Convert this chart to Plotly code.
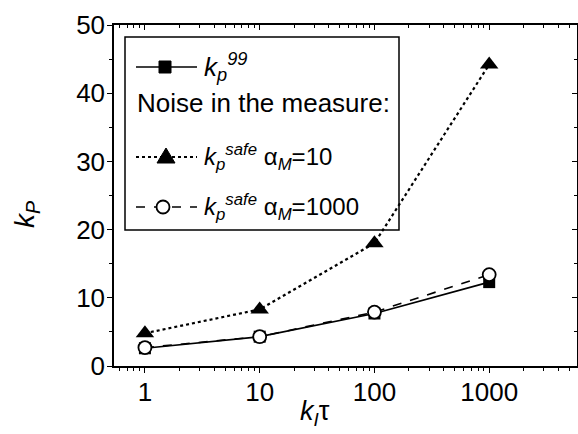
import plotly.graph_objects as go
import math

# ---- data ----
ki_tau = [1, 10, 100, 1000]
kp99 = [2.6, 4.3, 7.7, 12.3]
kp_safe_a10 = [4.8, 8.3, 18.0, 44.2]
kp_safe_a1000 = [2.7, 4.3, 7.9, 13.4]
x_ticks = [1, 10, 100, 1000]
x_ticktext = ["1", "10", "100", "1000"]
y_ticks = [0, 10, 20, 30, 40, 50]

W, H = 578, 434
L, R, T, B = 114, 1, 25, 68
PW, PH = W - L - R, H - T - B
FONT = "Liberation Sans, Arial, sans-serif"

def px(X):
    return (X - L) / PW

def py(Y):
    return (H - B - Y) / PH

fig = go.Figure()
fig.add_trace(go.Scatter(x=ki_tau, y=kp99, mode="lines+markers",
                         line=dict(color="black", width=1.7),
                         marker=dict(symbol="square", size=12, color="black"),
                         showlegend=False))
fig.add_trace(go.Scatter(x=ki_tau, y=kp_safe_a10, mode="lines+markers",
                         line=dict(color="black", width=2.2, dash="dot"),
                         marker=dict(symbol="triangle-up", size=16, color="black"),
                         showlegend=False))
fig.add_trace(go.Scatter(x=ki_tau, y=kp_safe_a1000, mode="lines+markers",
                         line=dict(color="black", width=1.6, dash="dash"),
                         marker=dict(symbol="circle", size=13, color="white",
                                     line=dict(color="black", width=1.8)),
                         showlegend=False))
# invisible trace so the mirrored (top/right) axes are drawn
fig.add_trace(go.Scatter(x=ki_tau, y=kp99, xaxis="x2", yaxis="y2", mode="markers",
                         marker=dict(opacity=0), hoverinfo="skip", showlegend=False))

xr = [math.log10(1) - 31 / 115, math.log10(1) + (W - R - 144) / 115]

axis_common = dict(showline=True, linecolor="black", linewidth=1.5,
                   showgrid=False, zeroline=False, tickcolor="black", tickwidth=1.3)

fig.update_layout(
    width=W, height=H, margin=dict(l=L, r=R, t=T, b=B),
    plot_bgcolor="white", paper_bgcolor="white",
    font=dict(family=FONT, color="black"),
    xaxis=dict(type="log", range=xr, tickmode="array", tickvals=x_ticks, ticktext=x_ticktext,
               ticks="outside", ticklen=5, tickfont=dict(size=26, family=FONT),
               ticklabelstandoff=-3,
               minor=dict(ticks="outside", ticklen=3, dtick="D1", tickcolor="black", showgrid=False),
               **axis_common),
    xaxis2=dict(type="log", range=xr, overlaying="x", side="top", anchor="y2",
                tickmode="array", tickvals=x_ticks, ticks="inside", ticklen=5,
                showticklabels=False,
                minor=dict(ticks="inside", ticklen=3, dtick="D1", tickcolor="black", showgrid=False),
                **axis_common),
    yaxis=dict(range=[0, 50], tickmode="array", tickvals=y_ticks,
               ticks="outside", ticklen=5, tickfont=dict(size=26, family=FONT),
               ticklabelstandoff=-3,
               minor=dict(ticks="outside", ticklen=3, dtick=5, tick0=0, tickcolor="black", showgrid=False),
               **axis_common),
    yaxis2=dict(range=[0, 50], overlaying="y", side="right", anchor="x2", tickmode="array", tickvals=y_ticks,
                ticks="inside", ticklen=5, showticklabels=False,
                minor=dict(ticks="inside", ticklen=3, dtick=5, tick0=0, tickcolor="black", showgrid=False),
                **axis_common),
)

annotations = [
    dict(text="<i>k<sub>P</sub></i>", x=px(27), y=py(215), xref="paper", yref="paper",
         xanchor="center", yanchor="middle",
         showarrow=False, textangle=-90, font=dict(size=28, family=FONT)),
    dict(text="<i>k<sub>I</sub></i>τ", x=px(315), y=py(413), xref="paper", yref="paper",
         xanchor="center", yanchor="middle",
         showarrow=False, font=dict(size=27, family=FONT)),
]

shapes = []
shapes.append(dict(type="rect", xref="paper", yref="paper", x0=px(125), x1=px(399),
                   y0=py(230), y1=py(37), line=dict(color="black", width=1.5),
                   fillcolor="rgba(0,0,0,0)"))

def leg_line(Y, dash, width):
    shapes.append(dict(type="line", xref="paper", yref="paper", x0=px(136), x1=px(197),
                       y0=py(Y), y1=py(Y), line=dict(color="black", width=width, dash=dash)))

rows = [67, 157, 207]
leg_line(rows[0], "solid", 1.7)
leg_line(rows[1], "dot", 2.2)
leg_line(rows[2], "dash", 1.6)

shapes.append(dict(type="rect", xref="paper", yref="paper", xsizemode="pixel", ysizemode="pixel",
                   xanchor=px(165), yanchor=py(rows[0]), x0=-6, x1=6, y0=-6, y1=6,
                   fillcolor="black", line=dict(color="black", width=1)))
shapes.append(dict(type="path", xref="paper", yref="paper", xsizemode="pixel", ysizemode="pixel",
                   xanchor=px(166), yanchor=py(rows[1]), path="M-9,-6 L9,-6 L0,9 Z",
                   fillcolor="black", line=dict(color="black", width=1)))
shapes.append(dict(type="circle", xref="paper", yref="paper", xsizemode="pixel", ysizemode="pixel",
                   xanchor=px(163), yanchor=py(rows[2]), x0=-6.5, x1=6.5, y0=-6.5, y1=6.5,
                   fillcolor="white", line=dict(color="black", width=1.8)))

LF = 24
annotations += [
    dict(text="<i>k<sub>p</sub><sup>99</sup></i>", x=px(202), y=py(rows[0]), xref="paper", yref="paper",
         xanchor="left", yanchor="middle", showarrow=False, font=dict(size=LF + 2, family=FONT)),
    dict(text="Noise in the measure:", x=px(135), y=py(103), xref="paper", yref="paper",
         xanchor="left", yanchor="middle", showarrow=False, font=dict(size=26, family=FONT)),
    dict(text="<i>k<sub>p</sub><sup>safe</sup></i> α<sub><i>M</i></sub>=10", x=px(202), y=py(rows[1]),
         xref="paper", yref="paper", xanchor="left", yanchor="middle", showarrow=False,
         font=dict(size=LF, family=FONT)),
    dict(text="<i>k<sub>p</sub><sup>safe</sup></i> α<sub><i>M</i></sub>=1000", x=px(202), y=py(rows[2]),
         xref="paper", yref="paper", xanchor="left", yanchor="middle", showarrow=False,
         font=dict(size=LF, family=FONT)),
]

fig.update_layout(shapes=shapes, annotations=annotations)
fig.write_html("out.html")
